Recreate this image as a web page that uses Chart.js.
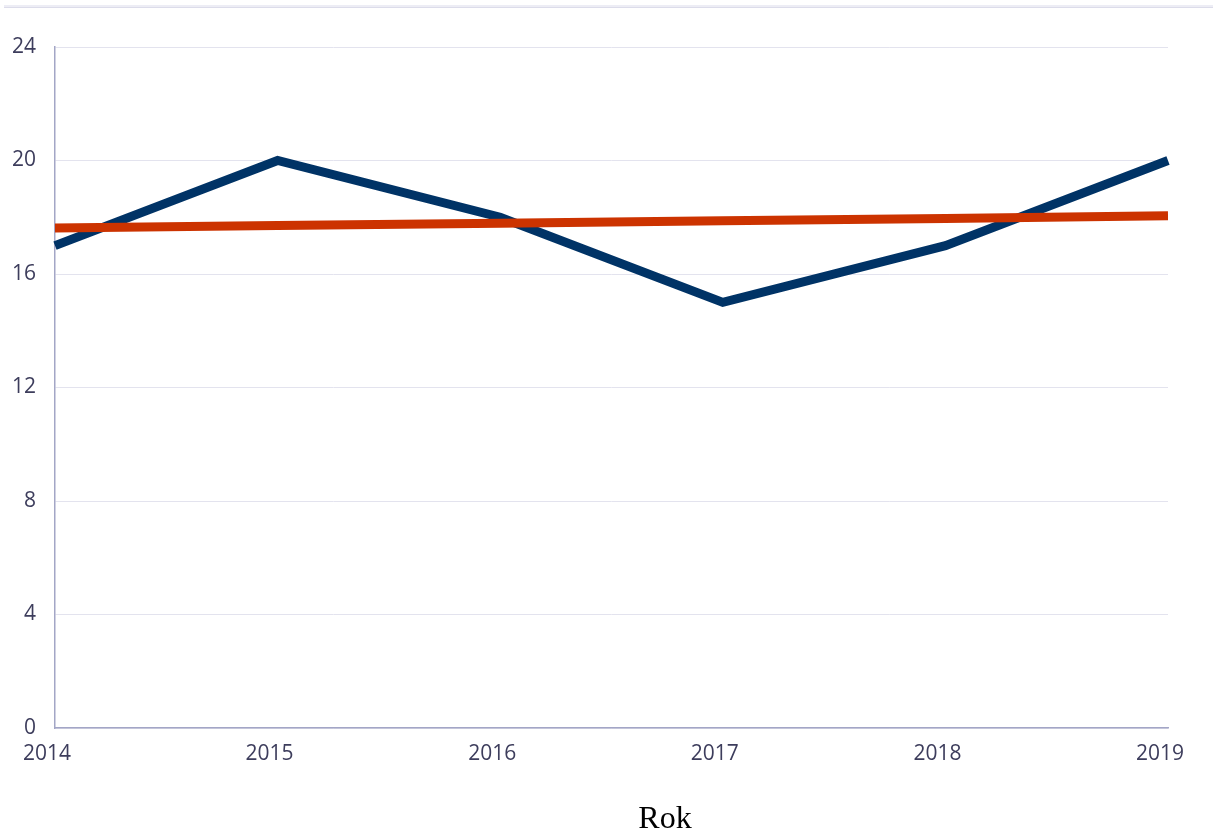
<!DOCTYPE html>
<html>
<head>
<meta charset="utf-8">
<script src="https://cdn.jsdelivr.net/npm/chart.js@4.4.0/dist/chart.umd.min.js"></script>
<style>
  html, body { margin: 0; padding: 0; background: #ffffff; }
  #wrap { position: relative; width: 1214px; height: 832px; overflow: hidden; }
  #topband { position: absolute; left: 4px; top: 5px; width: 1209px; height: 2px; background: #ededf5; border-bottom: 1px solid #dcdcea; }
  #xtitle { position: absolute; left: 605px; top: 801px; width: 120px; text-align: center;
            font-family: "Liberation Serif", "Times New Roman", serif; font-size: 32px; line-height: 32px; color: #000; }
  canvas { position: absolute; left: 0; top: 0; }
</style>
</head>
<body>
<div id="wrap">
  <div id="topband"></div>
  <canvas id="c" width="1214" height="832"></canvas>
  <div id="xtitle">Rok</div>
</div>
<script>
const years = ["2014", "2015", "2016", "2017", "2018", "2019"];
const seriesValues = [17, 20, 18, 15, 17, 20];
const trendValues = [17.62, 17.71, 17.79, 17.88, 17.96, 18.05];
const yTicks = [0, 4, 8, 12, 16, 20, 24];

const ctx = document.getElementById('c').getContext('2d');
new Chart(ctx, {
  type: 'line',
  data: {
    labels: years,
    datasets: [
      {
        label: 'Trend',
        data: trendValues,
        borderColor: '#cc3300',
        borderWidth: 9,
        pointRadius: 0,
        tension: 0,
        fill: false,
        borderCapStyle: 'butt'
      },
      {
        label: 'Wartość',
        data: seriesValues,
        borderColor: '#003366',
        borderWidth: 9,
        pointRadius: 0,
        tension: 0,
        fill: false,
        borderCapStyle: 'butt',
        borderJoinStyle: 'miter'
      }
    ]
  },
  options: {
    responsive: false,
    animation: false,
    layout: { padding: { top: 47, right: 46, left: 0, bottom: 0 } },
    plugins: { legend: { display: false }, tooltip: { enabled: false } },
    scales: {
      x: {
        type: 'category',
        offset: false,
        grid: { display: false, drawTicks: false },
        border: { display: true, color: '#a3a6c6', width: 1.5 },
        ticks: {
          font: { family: 'Open Sans', size: 21 },
          color: '#3d3d5c',
          padding: 13,
          labelOffset: -8,
          maxRotation: 0,
          autoSkip: false
        },
        afterFit: (s) => { s.height = 104; }
      },
      y: {
        min: 0,
        max: 24,
        afterBuildTicks: (s) => { s.ticks = yTicks.map(v => ({ value: v })); },
        grid: { color: '#e3e3ee', lineWidth: 1, drawTicks: false },
        border: { display: true, color: '#a3a6c6', width: 1.5 },
        ticks: {
          font: { family: 'Open Sans', size: 21 },
          color: '#3d3d5c',
          padding: 19
        },
        afterFit: (s) => { s.width = 55; }
      }
    }
  }
});
</script>
</body>
</html>
